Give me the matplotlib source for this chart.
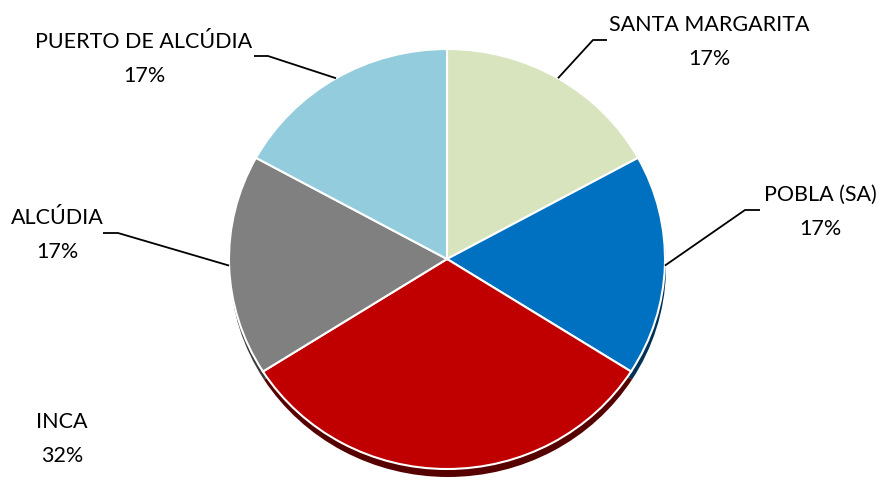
import numpy as np
import matplotlib.pyplot as plt
import matplotlib.colors as mcolors

labels = ['SANTA MARGARITA', 'POBLA (SA)', 'INCA', 'ALCÚDIA', 'PUERTO DE ALCÚDIA']
values = [17, 17, 32, 17, 17]
colors = ['#D7E4BD', '#0070C0', '#C00000', '#808080', '#93CDDD']

plt.rcParams['font.family'] = ['Lato', 'DejaVu Sans']

W, H = 880, 481
cx, cy = 447, 260      # pie centre (px, from top)
rx, ry = 218, 210      # slightly squashed, like a tilted pie

fig = plt.figure(figsize=(W / 100, H / 100), dpi=100)
ax = fig.add_axes([0, 0, 1, 1])


def darker(c, f=0.45):
    r, g, b = mcolors.to_rgb(c)
    return (r * f, g * f, b * f)


# shadow / extrusion under the slices
off = (1 / rx, -8 / ry)
ax.pie(values, colors=[darker(c) for c in colors], startangle=90,
       counterclock=False, center=off, radius=1,
       wedgeprops=dict(linewidth=0))
wedges, _ = ax.pie(values, colors=colors, startangle=90, counterclock=False,
                   center=(0, 0), radius=1,
                   wedgeprops=dict(edgecolor='white', linewidth=1.5))

ax.set_aspect('auto')
ax.set_xlim(-cx / rx, (W - cx) / rx)
ax.set_ylim(-(H - cy) / ry, cy / ry)
ax.axis('off')


def to_data(px, py):
    return (px - cx) / rx, (cy - py) / ry


# label block centre (px) and leader elbow points (px); None = no leader
label_pos = [(709, 42), (820, 212), (62, 439), (57, 235), (144, 59)]
elbows = [[(607, 41), (593, 41)],
          [(760, 211), (745, 211)],
          None,
          [(103, 234), (118, 234)],
          [(254, 57), (268, 57)]]

total = sum(values)
for w, lab, v, pos, elb in zip(wedges, labels, values, label_pos, elbows):
    tx, ty = to_data(*pos)
    ax.text(tx, ty, f'{lab}\n{round(100 * v / total)}%', ha='center',
            va='center', fontsize=15.5, color='#000000', linespacing=1.85)
    if elb is None:
        continue
    ang = np.deg2rad((w.theta1 + w.theta2) / 2)
    pts = [to_data(*p) for p in elb] + [(np.cos(ang), np.sin(ang))]
    xs, ys = zip(*pts)
    ax.plot(xs, ys, color='black', linewidth=1.3, solid_capstyle='butt')

fig.savefig('out.png', dpi=100)
